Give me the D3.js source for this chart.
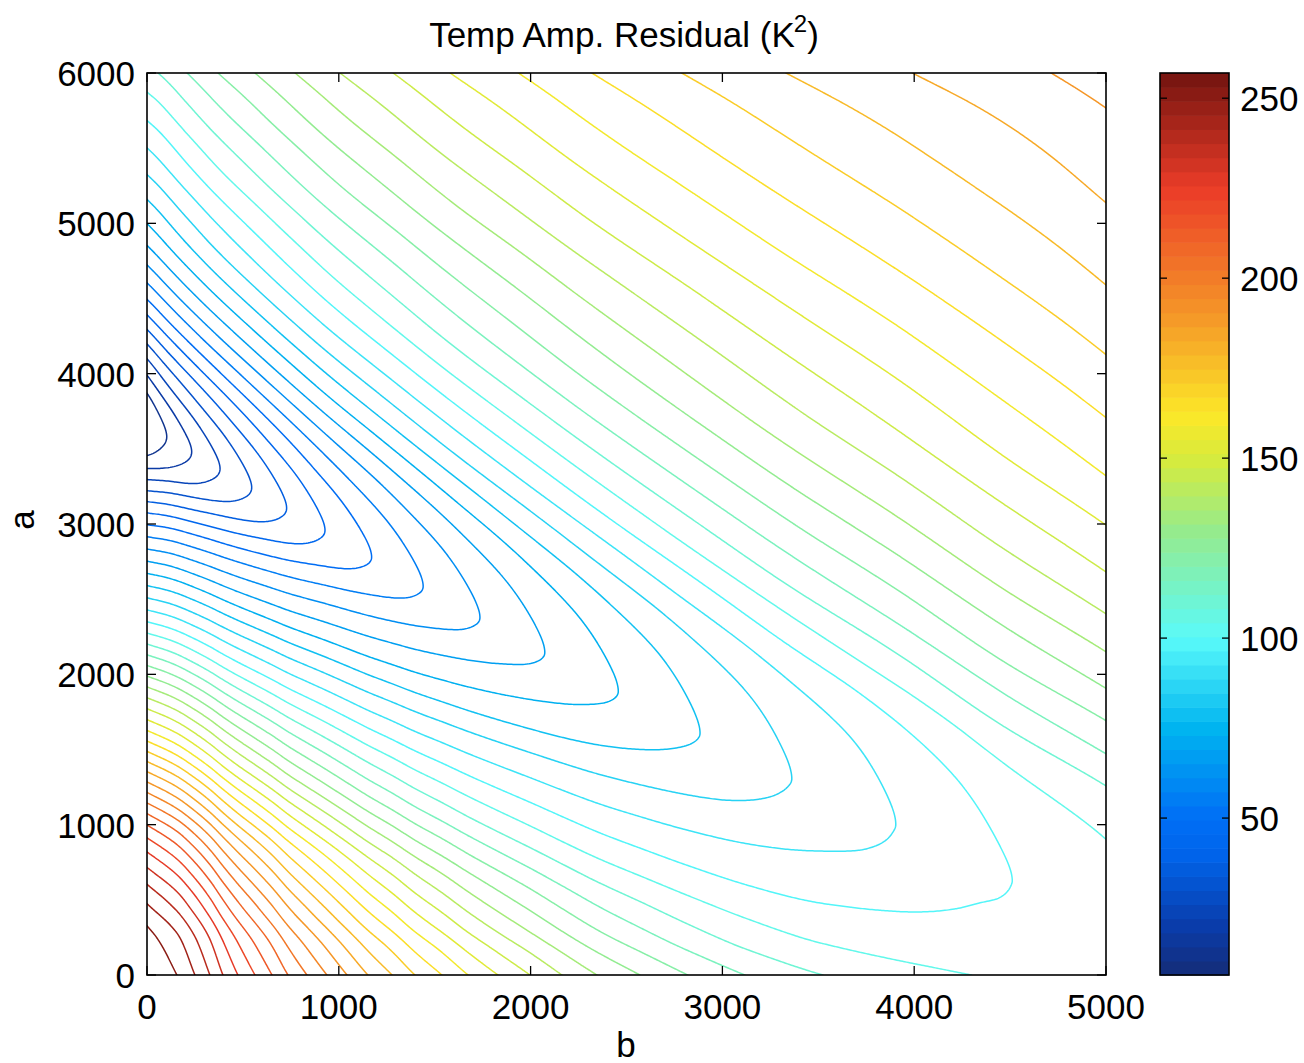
<!DOCTYPE html>
<html><head><meta charset="utf-8">
<script src="https://cdn.jsdelivr.net/npm/d3@7"></script>
<style>body{margin:0;background:#fff}</style></head>
<body><svg id="chart" width="1304" height="1063"></svg>
<script>
// ---------------- data ----------------
const zRange = [6.4, 257];          // colour axis = data min / max
const nLevels = 40;                 // number of contour levels
const bTicks = [0, 1000, 2000, 3000, 4000, 5000];
const aTicks = [0, 1000, 2000, 3000, 4000, 5000, 6000];
const cbTicks = [50, 100, 150, 200, 250];

// colour map as it appears in the colour bar (value -> colour)
const cmapV = [6.4, 20, 40, 50, 75, 100, 130, 150, 162, 190, 225, 257];
const cmapC = ["#142d78", "#0a3caa", "#0064eb", "#006ef5", "#00b4f0", "#5afafa", "#96eb8c", "#d7eb3c", "#fce828", "#f59628", "#eb3c28", "#73140f"];

// valley of the residual (tips of the closed loops) : b, a, value
const valleyB = [0, 103, 233, 381, 546, 728, 928, 1171, 1440, 1736, 2074, 2457, 2883, 3362, 3904, 4511, 5000];
const valleyA = [3661, 3581, 3480, 3368, 3242, 3105, 2958, 2780, 2585, 2377, 2145, 1886, 1608, 1305, 1000, 626, 353];
const valleyZ = [6.4, 12.51, 18.62, 24.74, 30.85, 36.96, 43.07, 49.18, 55.30, 61.41, 67.52, 73.63, 79.74, 85.86, 91.97, 98.08, 101.3];

// residual along the bottom edge (a = 0)
const bottomB = [0, 156, 250, 328, 396, 474, 563, 652, 735, 834, 938, 1043, 1152, 1278, 1397, 1538, 1674, 1830, 1997, 2164, 2346, 2570, 2820, 3118, 3525, 4300, 5000];
const bottomZ = [257, 250.88, 244.76, 238.65, 232.54, 226.43, 220.32, 214.20, 208.09, 201.98, 195.87, 189.76, 183.64, 177.53, 171.42, 165.31, 159.20, 153.08, 146.97, 140.86, 134.75, 128.64, 122.52, 116.41, 110.30, 104.19, 102.0];

// residual along the top edge (a = 6000)
const topB = [0, 57, 209, 370, 563, 772, 1006, 1283, 1580, 1936, 2319, 2787, 3330, 3989, 4713, 5000];
const topZ = [108.5, 110.30, 116.41, 122.52, 128.64, 134.75, 140.86, 146.97, 153.08, 159.20, 165.31, 171.42, 177.53, 183.64, 189.76, 192.5];

// normalised profiles across the valley (distance fraction -> value fraction)
// below the valley: at the left edge and far from it
const lowTauL = [0, 0.03, 0.07, 0.13, 0.22, 0.344, 0.45, 0.558, 0.65, 0.727, 0.80, 0.86, 0.93, 1];
const lowPhiL = [0, 0.0244, 0.073, 0.146, 0.244, 0.378, 0.505, 0.634, 0.75, 0.84, 0.905, 0.948, 0.985, 1];
const lowTauR = [0, 0.1, 0.207, 0.315, 0.448, 0.556, 0.7, 0.85, 1];
const lowPhiR = [0, 0.035, 0.097, 0.2, 0.31, 0.41, 0.57, 0.76, 1];
const lowMixB = [0, 500, 1000, 1500, 2500, 4000, 5000];   // share of the far profile
const lowMixW = [0, 0.18, 0.34, 0.48, 0.72, 1, 1];
// above the valley: at b = 0, b = 2500 and b = 5000
const upTauL = [0, 0.055, 0.10, 0.147, 0.221, 0.298, 0.383, 0.477, 0.534, 0.602, 0.659, 0.725, 0.802, 0.876, 0.952, 1];
const upPhiL = [0, 0.054, 0.107, 0.165, 0.268, 0.375, 0.482, 0.585, 0.640, 0.698, 0.745, 0.798, 0.855, 0.910, 0.964, 1];
const upTauM = [0, 0.06, 0.111, 0.18, 0.261, 0.35, 0.45, 0.55, 0.65, 0.75, 0.878, 1];
const upPhiM = [0, 0.02, 0.058, 0.14, 0.255, 0.37, 0.49, 0.59, 0.69, 0.79, 0.905, 1];
const upTauR = [0, 0.063, 0.128, 0.167, 0.207, 0.246, 0.291, 0.337, 0.388, 0.445, 0.506, 0.577, 0.654, 0.739, 0.841, 0.957, 1];
const upPhiR = [0, 0.0285, 0.0957, 0.163, 0.230, 0.297, 0.365, 0.432, 0.499, 0.566, 0.634, 0.701, 0.768, 0.835, 0.903, 0.970, 1];

// ---------------- helpers ----------------
function monotone(xs, ys) {
  const n = xs.length, dx = [], ms = [];
  for (let i = 0; i < n - 1; i++) { dx[i] = xs[i+1] - xs[i]; ms[i] = (ys[i+1] - ys[i]) / dx[i]; }
  const c1 = [ms[0]];
  for (let i = 1; i < n - 1; i++) {
    if (ms[i-1] * ms[i] <= 0) c1[i] = 0;
    else { const cm = dx[i-1] + dx[i]; c1[i] = 3 * cm / ((cm + dx[i]) / ms[i-1] + (cm + dx[i-1]) / ms[i]); }
  }
  c1[n-1] = ms[n-2];
  const c2 = [], c3 = [];
  for (let i = 0; i < n - 1; i++) {
    const c = c1[i], inv = 1 / dx[i], cm = c + c1[i+1] - 2 * ms[i];
    c2[i] = (ms[i] - c - cm) * inv; c3[i] = cm * inv * inv;
  }
  return function (x) {
    if (x <= xs[0]) return ys[0] + c1[0] * (x - xs[0]);
    if (x >= xs[n-1]) return ys[n-1] + c1[n-1] * (x - xs[n-1]);
    let lo = 0, hi = n - 1;
    while (hi - lo > 1) { const mid = (lo + hi) >> 1; if (xs[mid] <= x) lo = mid; else hi = mid; }
    const d = x - xs[lo];
    return ys[lo] + c1[lo] * d + c2[lo] * d * d + c3[lo] * d * d * d;
  };
}
const AV = monotone(valleyB, valleyA), MZ = monotone(valleyB, valleyZ);
const RB = monotone(bottomB, bottomZ), RT = monotone(topB, topZ);
const LOWL = monotone(lowTauL, lowPhiL), LOWR = monotone(lowTauR, lowPhiR), LMIX = monotone(lowMixB, lowMixW);
const UPL = monotone(upTauL, upPhiL), UPM = monotone(upTauM, upPhiM), UPR = monotone(upTauR, upPhiR);
const eps = 0.04, epsN = Math.sqrt(1 + eps * eps) - eps;
function soft(t) { return (Math.sqrt(t * t + eps * eps) - eps) / epsN; }
function residual(b, a) {
  b = Math.max(0, Math.min(5000, b)); a = Math.max(0, Math.min(6000, a));
  const av = AV(b), m = MZ(b);
  if (a <= av) {
    const t = soft((av - a) / av), w = LMIX(b);
    return m + (RB(b) - m) * ((1 - w) * LOWL(t) + w * LOWR(t));
  } else {
    const t = soft((a - av) / (6000 - av)), s = b / 5000;
    const phi = (1 - s) * (1 - s) * UPL(t) + 2 * s * (1 - s) * UPM(t) + s * s * UPR(t);
    return m + (RT(b) - m) * phi;
  }
}
const cmap = d3.scaleLinear().domain(cmapV).range(cmapC).interpolate(d3.interpolateRgb).clamp(true);

// ---------------- layout ----------------
const svg = d3.select("#chart");
const font = "'Liberation Sans', Arial, Helvetica, sans-serif";
const x = d3.scaleLinear().domain([0, 5000]).range([147, 1106]);
const y = d3.scaleLinear().domain([0, 6000]).range([975, 73]);

// grid
const step = 10, b0 = -30, a0 = -30;
const nx = Math.round(5060 / step) + 1, ny = Math.round(6060 / step) + 1;
const values = new Float64Array(nx * ny);
for (let j = 0; j < ny; j++) for (let i = 0; i < nx; i++) values[j * nx + i] = residual(b0 + i * step, a0 + j * step);

const dz = (zRange[1] - zRange[0]) / (nLevels + 1);
const levels = d3.range(1, nLevels + 1).map(k => zRange[0] + k * dz);
const contours = d3.contours().size([nx, ny]).thresholds(levels)(values);
const proj = d3.geoTransform({ point: function (px, py) {
  this.stream.point(x(b0 + (px - 0.5) * step), y(a0 + (py - 0.5) * step)); } });
const path = d3.geoPath(proj);

svg.append("clipPath").attr("id", "plotclip").append("rect")
  .attr("x", 147).attr("y", 73).attr("width", 959).attr("height", 902);
svg.append("g").attr("clip-path", "url(#plotclip)")
  .selectAll("path").data(contours).join("path")
  .attr("d", path).attr("fill", "none")
  .attr("stroke", d => cmap(d.value)).attr("stroke-width", 1.5);

// axes box + ticks (inward, all sides)
const axisColor = "#000";
svg.append("rect").attr("x", 147).attr("y", 73).attr("width", 959).attr("height", 902)
  .attr("fill", "none").attr("stroke", axisColor).attr("stroke-width", 1.6);
const tl = 9, fs = 35;
bTicks.forEach(v => {
  svg.append("line").attr("x1", x(v)).attr("x2", x(v)).attr("y1", 975).attr("y2", 975 - tl).attr("stroke", axisColor).attr("stroke-width", 1.3);
  svg.append("line").attr("x1", x(v)).attr("x2", x(v)).attr("y1", 73).attr("y2", 73 + tl).attr("stroke", axisColor).attr("stroke-width", 1.3);
  svg.append("text").attr("x", x(v)).attr("y", 1019).attr("text-anchor", "middle")
    .attr("font-family", font).attr("font-size", fs).text(v);
});
aTicks.forEach(v => {
  svg.append("line").attr("x1", 147).attr("x2", 147 + tl).attr("y1", y(v)).attr("y2", y(v)).attr("stroke", axisColor).attr("stroke-width", 1.3);
  svg.append("line").attr("x1", 1106).attr("x2", 1106 - tl).attr("y1", y(v)).attr("y2", y(v)).attr("stroke", axisColor).attr("stroke-width", 1.3);
  svg.append("text").attr("x", 135).attr("y", y(v) + 13).attr("text-anchor", "end")
    .attr("font-family", font).attr("font-size", fs).text(v);
});
svg.append("text").attr("x", 626).attr("y", 1057).attr("text-anchor", "middle")
  .attr("font-family", font).attr("font-size", fs).text("b");
svg.append("text").attr("transform", "translate(34,520) rotate(-90)").attr("text-anchor", "middle")
  .attr("font-family", font).attr("font-size", fs).text("a");

// title
const title = svg.append("text").attr("x", 624).attr("y", 47).attr("text-anchor", "middle")
  .attr("font-family", font).attr("font-size", 35);
title.append("tspan").text("Temp Amp. Residual (K");
title.append("tspan").attr("dx", -1).attr("dy", -15).attr("font-size", 24).text("2");
title.append("tspan").attr("dy", 15).text(")");

// colorbar
const cb = d3.scaleLinear().domain(zRange).range([975, 73]);
const nC = 64;
const cbG = svg.append("g");
for (let i = 0; i < nC; i++) {
  const v0 = zRange[0] + i * (zRange[1] - zRange[0]) / nC, v1 = zRange[0] + (i + 1) * (zRange[1] - zRange[0]) / nC;
  cbG.append("rect").attr("x", 1160).attr("width", 69).attr("y", cb(v1)).attr("height", cb(v0) - cb(v1) + 0.6)
    .attr("fill", cmap((v0 + v1) / 2));
}
cbG.append("rect").attr("x", 1160).attr("y", 73).attr("width", 69).attr("height", 902)
  .attr("fill", "none").attr("stroke", axisColor).attr("stroke-width", 1.6);
cbTicks.forEach(v => {
  cbG.append("line").attr("x1", 1160).attr("x2", 1167).attr("y1", cb(v)).attr("y2", cb(v)).attr("stroke", axisColor).attr("stroke-width", 1.3);
  cbG.append("line").attr("x1", 1229).attr("x2", 1222).attr("y1", cb(v)).attr("y2", cb(v)).attr("stroke", axisColor).attr("stroke-width", 1.3);
  cbG.append("text").attr("x", 1240).attr("y", cb(v) + 13).attr("font-family", font).attr("font-size", fs).text(v);
});
</script></body></html>
